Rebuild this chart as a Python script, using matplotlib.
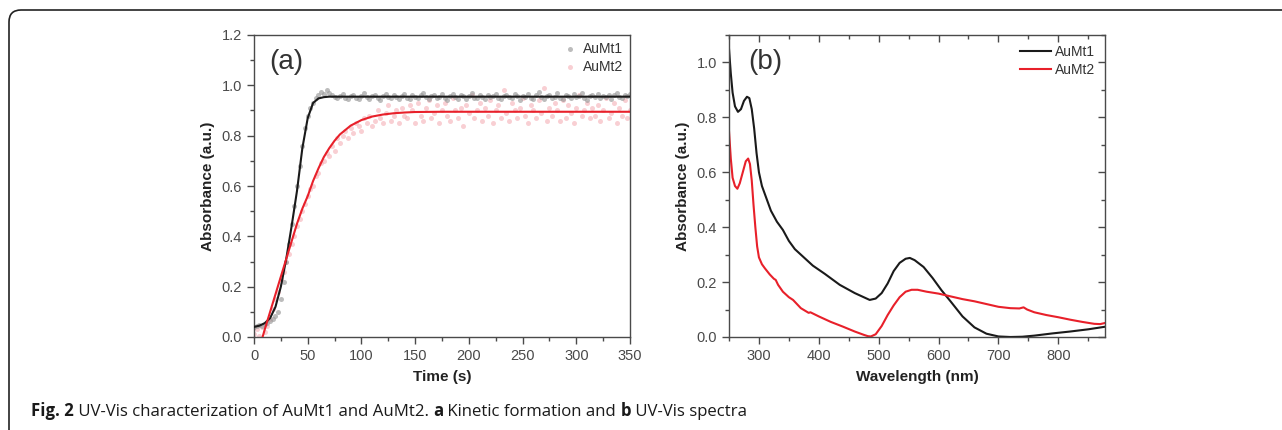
import numpy as np
import matplotlib
matplotlib.use("Agg")
import matplotlib.pyplot as plt
from matplotlib.patches import FancyBboxPatch
from matplotlib.transforms import IdentityTransform
from matplotlib.ticker import MultipleLocator, FormatStrFormatter

# ---------------- data: panel (a) kinetics ----------------
t_points = np.arange(0, 350.1, 2.5)
aumt1_points = [
    0.040, 0.043, 0.046, 0.044, 0.050, 0.056, 0.062, 0.070, 0.082,
    0.100, 0.150, 0.220, 0.300, 0.370, 0.450, 0.520, 0.600, 0.680, 0.760,
    0.830, 0.880, 0.910, 0.930, 0.950, 0.962, 0.972, 0.965, 0.980, 0.970,
    0.962, 0.955, 0.948, 0.958, 0.966, 0.950, 0.944, 0.957, 0.962, 0.951, 0.946, 0.959, 0.968, 0.953,
    0.947, 0.956, 0.963, 0.950, 0.942, 0.958, 0.965, 0.952, 0.949, 0.961, 0.955, 0.944, 0.957, 0.967,
    0.951, 0.946, 0.960, 0.954, 0.948, 0.963, 0.970, 0.952, 0.945, 0.958, 0.962, 0.949, 0.955, 0.966,
    0.950, 0.943, 0.959, 0.964, 0.953, 0.947, 0.961, 0.956, 0.944, 0.958, 0.969, 0.951, 0.948, 0.960,
    0.955, 0.946, 0.963, 0.952, 0.958, 0.967, 0.949, 0.944, 0.957, 0.962, 0.953, 0.948, 0.965, 0.956,
    0.942, 0.959, 0.954, 0.966, 0.950, 0.947, 0.961, 0.972, 0.952, 0.946, 0.958, 0.963, 0.949, 0.955,
    0.968, 0.951, 0.945, 0.960, 0.956, 0.948, 0.964, 0.953, 0.959, 0.970, 0.950, 0.943, 0.957, 0.962,
    0.952, 0.966, 0.949, 0.958, 0.954, 0.963, 0.947, 0.960, 0.971, 0.955, 0.950, 0.961, 0.957, 0.964,
]
aumt2_points = [
    0.010, 0.030, 0.005, 0.040, 0.020, 0.045, 0.070, 0.110, 0.150,
    0.180, 0.230, 0.260, 0.300, 0.330, 0.370, 0.400, 0.440, 0.470, 0.500,
    0.530, 0.560, 0.590, 0.600, 0.640, 0.650, 0.690, 0.700, 0.730, 0.720,
    0.760, 0.740, 0.790, 0.770, 0.800, 0.820, 0.790, 0.830, 0.810, 0.850, 0.840, 0.820, 0.870, 0.850,
    0.880, 0.840, 0.860, 0.900, 0.870, 0.850, 0.890, 0.920, 0.860, 0.880, 0.900, 0.850, 0.910, 0.880,
    0.870, 0.920, 0.900, 0.850, 0.930, 0.880, 0.860, 0.910, 0.940, 0.870, 0.890, 0.920, 0.850, 0.900,
    0.930, 0.880, 0.860, 0.950, 0.900, 0.870, 0.910, 0.840, 0.920, 0.890, 0.960, 0.870, 0.900, 0.930,
    0.860, 0.910, 0.880, 0.940, 0.850, 0.900, 0.920, 0.870, 0.980, 0.890, 0.860, 0.930, 0.900, 0.870,
    0.910, 0.950, 0.880, 0.850, 0.920, 0.900, 0.870, 0.940, 0.890, 0.990, 0.860, 0.910, 0.880, 0.930,
    0.900, 0.860, 0.940, 0.870, 0.920, 0.890, 0.850, 0.910, 0.960, 0.880, 0.900, 0.930, 0.870, 0.910,
    0.880, 0.920, 0.860, 0.900, 0.950, 0.870, 0.890, 0.930, 0.850, 0.910, 0.880, 0.940, 0.870, 0.900,
]
fit1_t = [0, 5, 10, 15, 20, 25, 30, 35, 40, 45, 50, 55, 60, 65, 70, 80, 100, 150, 200, 250, 300, 350]
fit1_v = [0.040, 0.045, 0.055, 0.075, 0.120, 0.200, 0.310, 0.440, 0.580, 0.750, 0.870, 0.930,
          0.948, 0.953, 0.955, 0.955, 0.955, 0.955, 0.955, 0.955, 0.955, 0.955]
fit2_t = [8, 10, 15, 20, 25, 30, 35, 40, 45, 50, 55, 60, 65, 70, 75, 80, 90, 100, 110, 120,
          130, 140, 150, 175, 200, 250, 300, 350]
fit2_v = [0.000, 0.030, 0.100, 0.170, 0.240, 0.310, 0.380, 0.450, 0.510, 0.560, 0.620, 0.670,
          0.715, 0.750, 0.780, 0.805, 0.840, 0.862, 0.876, 0.884, 0.889, 0.892, 0.894, 0.895,
          0.895, 0.895, 0.895, 0.895]

# ---------------- data: panel (b) spectra ----------------
wl1 = [250, 253, 256, 260, 265, 270, 275, 280, 284, 288, 292, 296, 300, 305, 310, 315, 320,
       330, 340, 350, 360, 375, 390, 410, 435, 460, 475, 485, 495, 505, 515, 525, 535, 545,
       552, 560, 575, 590, 605, 620, 640, 660, 680, 700, 720, 740, 760, 790, 820, 850, 880]
abs1 = [1.050, 0.960, 0.890, 0.840, 0.820, 0.830, 0.860, 0.875, 0.870, 0.830, 0.760, 0.670,
        0.600, 0.550, 0.520, 0.490, 0.460, 0.420, 0.390, 0.350, 0.320, 0.290, 0.260, 0.230,
        0.190, 0.160, 0.145, 0.135, 0.140, 0.160, 0.195, 0.240, 0.270, 0.285, 0.288, 0.280,
        0.255, 0.215, 0.170, 0.130, 0.075, 0.035, 0.012, 0.002, 0.000, 0.001, 0.005, 0.013,
        0.020, 0.028, 0.038]
wl2 = [250, 253, 256, 260, 264, 268, 273, 278, 282, 285, 288, 291, 294, 297, 300, 305, 310,
       318, 325, 328, 332, 340, 350, 357, 370, 383, 386, 400, 420, 440, 460, 475, 482, 487,
       495, 505, 515, 525, 535, 545, 555, 565, 580, 600, 620, 640, 660, 680, 700, 720, 735,
       742, 748, 760, 780, 800, 820, 840, 860, 870, 880]
abs2 = [0.750, 0.650, 0.580, 0.550, 0.540, 0.560, 0.600, 0.640, 0.650, 0.630, 0.570, 0.480,
        0.400, 0.330, 0.290, 0.265, 0.250, 0.228, 0.212, 0.208, 0.190, 0.165, 0.145, 0.135,
        0.105, 0.088, 0.090, 0.075, 0.055, 0.038, 0.020, 0.008, 0.003, 0.002, 0.010, 0.040,
        0.080, 0.115, 0.145, 0.165, 0.172, 0.172, 0.165, 0.158, 0.148, 0.138, 0.130, 0.120,
        0.110, 0.105, 0.104, 0.108, 0.100, 0.090, 0.080, 0.072, 0.063, 0.055, 0.048, 0.047,
        0.052]

series_names = ["AuMt1", "AuMt2"]
caption_parts = [("Fig. 2", "bold"), (" UV-Vis characterization of AuMt1 and AuMt2. ", "normal"),
                 ("a", "bold"), (" Kinetic formation and ", "normal"), ("b", "bold"),
                 (" UV-Vis spectra", "normal")]

# ---------------- styling ----------------
W, H = 1282, 430
plt.rcParams['font.family'] = ['Liberation Sans', 'DejaVu Sans']
AX_COL = '#4a4a4a'
TXT_COL = '#4a4a4a'
LBL_COL = '#222222'
TICK_FS = 10.5
LABEL_FS = 11

fig = plt.figure(figsize=(W / 100, H / 100), dpi=100)
fig.patch.set_facecolor('white')


def px_axes(x0, y0, x1, y1):
    return fig.add_axes([x0 / W, 1 - y1 / H, (x1 - x0) / W, (y1 - y0) / H])


def style_axes(ax):
    for s in ax.spines.values():
        s.set_color(AX_COL)
        s.set_linewidth(1.0)
    ax.tick_params(which='both', direction='out', colors=AX_COL, labelcolor=TXT_COL,
                   labelsize=TICK_FS, width=1.0, top=False, right=False)
    ax.tick_params(which='major', length=5)
    ax.tick_params(which='minor', length=3)


# ---- panel (a)
axa = px_axes(254, 35, 630, 337)
axa.scatter(t_points, aumt2_points, s=13, color='#f4a9b0', alpha=0.55, linewidths=0,
            label=series_names[1], zorder=2)
axa.scatter(t_points, aumt1_points, s=13, color='#999999', alpha=0.65, linewidths=0,
            label=series_names[0], zorder=2)
axa.plot(fit1_t, fit1_v, color='#1a1a1a', lw=1.5, zorder=3)
axa.plot(fit2_t, fit2_v, color='#e8202a', lw=1.5, zorder=4)
axa.set_xlim(0, 350)
axa.set_ylim(0, 1.2)
axa.xaxis.set_major_locator(MultipleLocator(50))
axa.xaxis.set_minor_locator(MultipleLocator(25))
axa.yaxis.set_major_locator(MultipleLocator(0.2))
axa.yaxis.set_minor_locator(MultipleLocator(0.1))
axa.yaxis.set_major_formatter(FormatStrFormatter('%.1f'))
style_axes(axa)
axa.set_xlabel('Time (s)', fontsize=LABEL_FS, fontweight='bold', color=LBL_COL, labelpad=5)
axa.set_ylabel('Absorbance (a.u.)', fontsize=LABEL_FS, fontweight='bold', color=LBL_COL, labelpad=5)
axa.text(0.04, 0.91, '(a)', transform=axa.transAxes, fontsize=20, color='#333333',
         va='center', ha='left')
h, l = axa.get_legend_handles_labels()
leg = axa.legend(h[::-1], l[::-1], loc='upper right', frameon=False, fontsize=10,
                 handletextpad=0.3, borderaxespad=0.3, labelspacing=0.3, markerscale=1.0,
                 handlelength=1.2, borderpad=0.2)
for txt in leg.get_texts():
    txt.set_color('#333333')

# ---- panel (b)
axb = px_axes(729, 35, 1105, 337)
axb.plot(wl1, abs1, color='#1a1a1a', lw=1.5, label=series_names[0])
axb.plot(wl2, abs2, color='#e8202a', lw=1.5, label=series_names[1])
axb.set_xlim(250, 878)
axb.set_ylim(0, 1.1)
axb.xaxis.set_major_locator(MultipleLocator(100))
axb.xaxis.set_minor_locator(MultipleLocator(50))
axb.yaxis.set_major_locator(MultipleLocator(0.2))
axb.yaxis.set_minor_locator(MultipleLocator(0.1))
axb.yaxis.set_major_formatter(FormatStrFormatter('%.1f'))
style_axes(axb)
axb.set_xlabel('Wavelength (nm)', fontsize=LABEL_FS, fontweight='bold', color=LBL_COL, labelpad=5)
axb.set_ylabel('Absorbance (a.u.)', fontsize=LABEL_FS, fontweight='bold', color=LBL_COL, labelpad=5)
axb.text(0.05, 0.91, '(b)', transform=axb.transAxes, fontsize=20, color='#333333',
         va='center', ha='left')
legb = axb.legend(loc='upper right', frameon=False, fontsize=10, handlelength=2.2,
                  handletextpad=0.3, borderaxespad=0.3, labelspacing=0.3, borderpad=0.4)
for txt in legb.get_texts():
    txt.set_color('#333333')

# inward mirror ticks on top and right of panel (b)
sec_x = axb.secondary_xaxis('top')
sec_x.xaxis.set_major_locator(MultipleLocator(100))
sec_x.xaxis.set_minor_locator(MultipleLocator(50))
sec_x.tick_params(which='both', direction='in', colors=AX_COL, labeltop=False, width=1.0)
sec_x.tick_params(which='major', length=5)
sec_x.tick_params(which='minor', length=3)
sec_x.spines['top'].set_visible(False)
sec_y = axb.secondary_yaxis('right')
sec_y.yaxis.set_major_locator(MultipleLocator(0.2))
sec_y.yaxis.set_minor_locator(MultipleLocator(0.1))
sec_y.tick_params(which='both', direction='in', colors=AX_COL, labelright=False, width=1.0)
sec_y.tick_params(which='major', length=5)
sec_y.tick_params(which='minor', length=3)
sec_y.spines['right'].set_visible(False)

# ---- frame (rounded corner, journal box)
frame = FancyBboxPatch((9, -60), 1500, 480, boxstyle="round,pad=0,rounding_size=12",
                       transform=IdentityTransform(), fill=False, lw=1.2, ec='#222222')
fig.patches.append(frame)
frame.set_figure(fig)

# ---- caption
fig.canvas.draw()
renderer = fig.canvas.get_renderer()
cap_font = ['Open Sans', 'DejaVu Sans']
cap_size = 10.5
tmp = []
total = 0
for s, wgt in caption_parts:
    tt = fig.text(0, 0, s, fontsize=cap_size, fontweight=wgt, family=cap_font)
    total += tt.get_window_extent(renderer).width
    tmp.append(tt)
for tt in tmp:
    tt.remove()
cap_size = cap_size * 717.0 / total
x = 31
for s, wgt in caption_parts:
    tt = fig.text(x / W, 14 / H, s, fontsize=cap_size, fontweight=wgt, family=cap_font,
                  color='#1a1a1a', va='baseline', ha='left')
    x += tt.get_window_extent(renderer).width

fig.savefig('out.png', dpi=100, facecolor='white')
